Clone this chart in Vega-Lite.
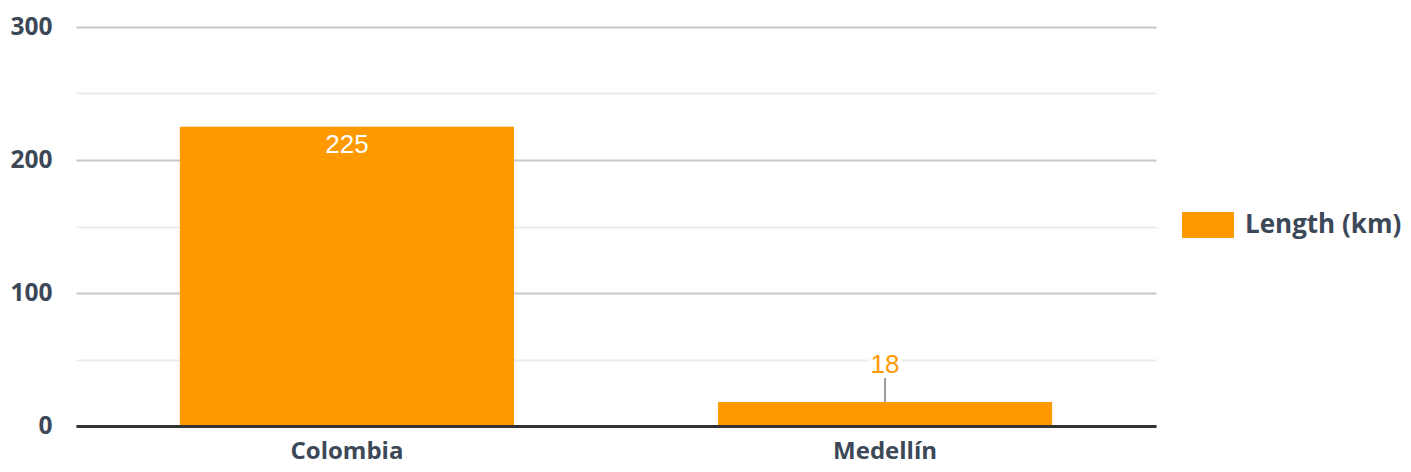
{
  "$schema": "https://vega.github.io/schema/vega-lite/v6.json",
  "width": 1080,
  "height": 399,
  "autosize": {"type": "none"},
  "padding": {"left": 76, "top": 27, "right": 255, "bottom": 46},
  "background": "white",
  "config": {"view": {"stroke": null}},
  "data": {"values": [
    {"city": "Colombia", "length": 225},
    {"city": "Medellín", "length": 18}
  ]},
  "encoding": {
    "x": {
      "field": "city", "type": "nominal", "sort": null,
      "scale": {"paddingInner": 0.379, "paddingOuter": 0.193},
      "axis": {
        "title": null, "labelAngle": 0, "ticks": false,
        "labelFont": "Open Sans", "labelFontWeight": "bold", "labelFontSize": 24,
        "labelColor": "#3c4858", "labelPadding": 13,
        "domainColor": "#333333", "domainWidth": 3, "zindex": 1
      }
    },
    "y": {
      "field": "length", "type": "quantitative",
      "scale": {"domain": [0, 300], "nice": false},
      "axis": {
        "title": null, "values": [0, 50, 100, 150, 200, 250, 300],
        "labelExpr": "datum.value % 100 === 0 ? datum.label : ''",
        "ticks": false, "domain": false,
        "labelFont": "Open Sans", "labelFontWeight": "bold", "labelFontSize": 24.5,
        "labelColor": "#3c4858", "labelPadding": 24,
        "gridWidth": 2,
        "gridColor": {"condition": {"test": "datum.value % 100 === 0", "value": "#c8c8c8"}, "value": "#ebebeb"}
      }
    }
  },
  "layer": [
    {
      "mark": {"type": "bar", "color": "#ff9900"},
      "encoding": {
        "color": {
          "datum": "Length (km)",
          "scale": {"range": ["#ff9900"]},
          "legend": {
            "title": null, "orient": "none", "legendX": 1106, "legendY": 172,
            "symbolType": "M-1,-0.5H1V0.5H-1Z", "symbolSize": 2704,
            "symbolStrokeWidth": 0, "symbolFillColor": "#ff9900",
            "labelFont": "Open Sans", "labelFontWeight": "bold", "labelFontSize": 26,
            "labelColor": "#3c4858", "labelOffset": 11
          }
        }
      }
    },
    {
      "transform": [{"filter": "datum.length >= 50"}],
      "mark": {"type": "text", "color": "white", "font": "Liberation Sans", "fontSize": 26, "baseline": "middle", "dy": 18},
      "encoding": {"text": {"field": "length"}}
    },
    {
      "transform": [{"filter": "datum.length < 50"}],
      "mark": {"type": "rule", "color": "#999999", "strokeWidth": 2, "y2Offset": -24},
      "encoding": {"y2": {"field": "length"}}
    },
    {
      "transform": [{"filter": "datum.length < 50"}],
      "mark": {"type": "text", "color": "white", "stroke": "white", "strokeWidth": 8, "font": "Liberation Sans", "fontSize": 26, "baseline": "middle", "dy": -37},
      "encoding": {"text": {"field": "length"}}
    },
    {
      "transform": [{"filter": "datum.length < 50"}],
      "mark": {"type": "text", "color": "#ff9900", "font": "Liberation Sans", "fontSize": 26, "baseline": "middle", "dy": -37},
      "encoding": {"text": {"field": "length"}}
    }
  ]
}
